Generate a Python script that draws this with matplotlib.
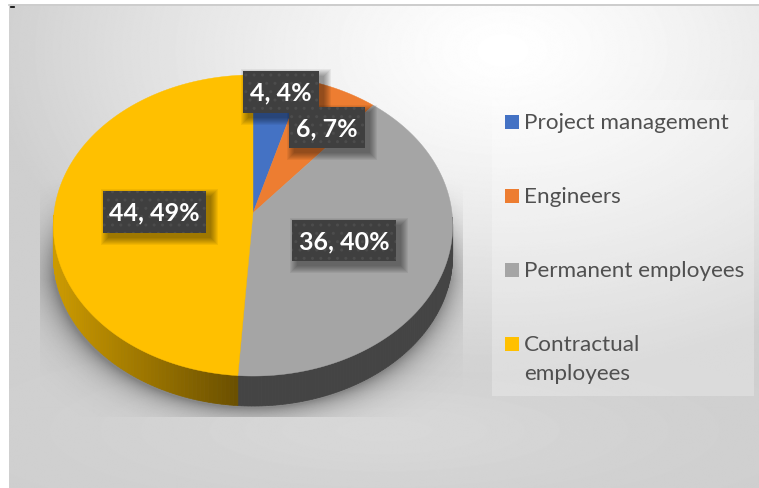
#!/usr/bin/env python3
"""Workforce split, pseudo-3D pie in the Office chart style."""
import numpy as np
import matplotlib
matplotlib.use("Agg")
import matplotlib.pyplot as plt
from matplotlib.patches import Rectangle
from matplotlib.colors import to_rgb

categories = ["Project management", "Engineers", "Permanent employees", "Contractual\nemployees"]
values = [4, 6, 36, 44]
colors = ["#4472C4", "#ED7D31", "#A5A5A5", "#FFC000"]

W, H = 759, 489
# pie geometry in pixels
CX, CY = 253, 213
RX, RB, TILT = 199, 149.5, 0.083
DEPTH = 30


def rim(theta):
    # clockwise from 12 o'clock, circle seen in perspective
    u, v = np.sin(theta), np.cos(theta)
    d = 1 + TILT * v
    return CX + RX * u / d, CY - RB * v / d


fig = plt.figure(figsize=(W / 100, H / 100), dpi=100, facecolor="white")
ax = fig.add_axes([0, 0, 1, 1])
ax.axis("off")

# background gradient
yy, xx = np.mgrid[0:H, 0:W] + 0.5
r = np.hypot((xx - 500) / 520, (yy - 45) / 330)
bg = np.clip(1 - 0.19 * r ** 1.3, 0.81, 1)
bg = bg + 0.035 * np.exp(-((xx - 380) / 260) ** 2 - ((yy - 430) / 60) ** 2)
ax.imshow(bg, cmap="gray", vmin=0, vmax=1, extent=[9, W, H, 6], zorder=0, aspect="auto")
ax.plot([9, W], [5, 5], color="#c4c4c4", lw=1.2, zorder=1)
ax.plot([10.5, 13.5], [6.5, 6.5], color="black", lw=1.2, zorder=1)

# soft shadow under the pie
ell = np.hypot((xx - 252) / 200, (yy - 258) / 150)
dist = (ell - 1) * 165
shadow = 0.36 * np.exp(-np.clip(dist, 0, None) / 13)
shadow[(xx < 40) | (xx > 463) | (yy > 417) | (yy < 175)] = 0
shadow[yy < 280] *= np.clip((yy[yy < 280] - 175) / 105, 0, 1)
rgba = np.zeros((H, W, 4))
rgba[..., 3] = shadow
ax.imshow(rgba, extent=[0, W, H, 0], zorder=1.5, aspect="auto")

# slices
edges = np.cumsum([0] + values) / sum(values) * 2 * np.pi
side_dark = {2: ("#444444", "#444444"), 3: ("#CC9A00", "#6B5000")}
for i, (a, b) in enumerate(zip(edges[:-1], edges[1:])):
    t = np.linspace(a, b, 160)
    x, y = rim(t)
    if i in side_dark:
        c0, c1 = (np.array(to_rgb(c)) for c in side_dark[i])
        for j in range(len(t) - 1):
            # back half of the rim stays hidden
            if np.cos(t[j]) > -0.02:
                continue
            f = np.clip((x[j] - 58) / (238 - 58), 0, 1) if i == 3 else 0
            col = c0 + (c1 - c0) * f
            ax.fill([x[j], x[j + 1], x[j + 1], x[j]],
                    [y[j], y[j + 1], y[j + 1] + DEPTH, y[j] + DEPTH],
                    color=col, lw=0.5, zorder=2)
for i, (a, b) in enumerate(zip(edges[:-1], edges[1:])):
    t = np.linspace(a, b, 160)
    x, y = rim(t)
    ax.fill(np.r_[CX, x], np.r_[CY, y], color=colors[i], lw=0.3, zorder=3)

# data labels
label_boxes = [(243, 71, 76, 42), (289, 107, 76, 41), (292, 220, 104, 41), (103, 191, 103, 42)]
total = sum(values)
for v, (bx, by, bw, bh) in zip(values, label_boxes):
    for k in range(8, 0, -1):
        ax.add_patch(Rectangle((bx + 5 - k + 1, by + 5 - k + 1), bw + 2 * k - 2, bh + 2 * k - 2,
                               fc="black", ec="none", alpha=0.055, zorder=4))
    ax.add_patch(Rectangle((bx, by), bw, bh, fc="#3F3F3F", ec="none", zorder=5))
    ax.add_patch(Rectangle((bx, by), bw, bh, fc="none", ec="#4C4C4C", lw=0, hatch="..", zorder=5))
    ax.text(bx + bw / 2, by + bh / 2, f"{v}, {round(v / total * 100)}%", color="white",
            family="Lato", fontweight="bold", fontsize=18, ha="center", va="center", zorder=6)

# legend
ax.add_patch(Rectangle((492, 100), 262, 296, fc="white", ec="none", alpha=0.25, zorder=2))
legend_y = [122, 196, 270, 344]
for name, col, y in zip(categories, colors, legend_y):
    ax.add_patch(Rectangle((505, y - 7), 14, 14, fc=col, ec="none", zorder=3))
    ax.text(524, y - 10, name, color="#505050", family="Lato", fontsize=16.2,
            ha="left", va="top", linespacing=1.55, zorder=3)

ax.set_xlim(0, W)
ax.set_ylim(H - 1, -1)
fig.savefig("out.png", dpi=100, facecolor="white")
